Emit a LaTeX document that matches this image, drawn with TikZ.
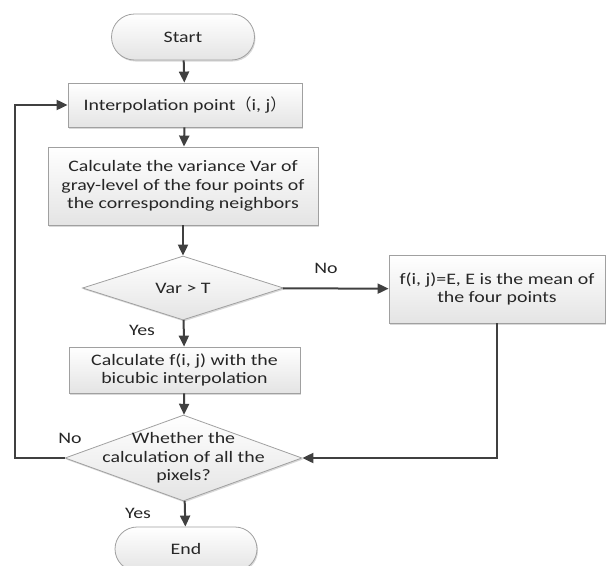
\documentclass[tikz,border=0pt]{standalone}
\usepackage{fontspec}
\setmainfont{Carlito}[FakeStretch=1.24]
\newfontfamily\cjkfont{Noto Sans CJK SC}
\usetikzlibrary{shapes.geometric,shapes.misc,arrows.meta,shadows}
\definecolor{linegray}{HTML}{404040}
\definecolor{bordergray}{HTML}{A0A0A0}
\definecolor{fillgray}{HTML}{E4E4E4}
\begin{document}
\begin{tikzpicture}[x=1pt,y=-1pt,
	every node/.style={font=\fontsize{16}{18.5}\selectfont, text=black!85},
	boxstyle/.style={draw=bordergray, line width=0.8pt, top color=white, bottom color=fillgray,
		inner sep=0pt, align=center,
		drop shadow={shadow xshift=1pt, shadow yshift=-1.5pt, opacity=0.3, fill=gray}},
	procbox/.style={boxstyle, rectangle},
	termbox/.style={boxstyle, rounded rectangle},
	decision/.style={boxstyle, diamond, inner xsep=-40pt, inner ysep=-25pt},
	arr/.style={draw=linegray, line width=2pt, -{Triangle[length=11pt,width=10pt]}}]
	\useasboundingbox (0,0) rectangle (607,565);
	% boxes
	\node[termbox, minimum width=143pt, minimum height=46pt] (start) at (183,37) {Start};
	\node[procbox, minimum width=234pt, minimum height=44pt] (interp) at (185,105)
		{Interpolation point{\cjkfont （}i, j{\cjkfont ）}};
	\node[procbox, minimum width=270pt, minimum height=78pt] (calc) at (183,186)
		{Calculate the variance Var of\\gray-level of the four points of\\the corresponding neighbors};
	\node[decision, minimum width=201pt, minimum height=64pt] (var) at (183,288) {Var > T};
	\node[procbox, minimum width=216pt, minimum height=68pt] (mean) at (497,289)
		{f(i, j)=E, E is the mean of\\the four points};
	\node[procbox, minimum width=231pt, minimum height=46pt] (bicubic) at (184.5,370)
		{Calculate f(i, j) with the\\bicubic interpolation};
	\node[decision, minimum width=237pt, minimum height=86pt] (whether) at (183.5,458)
		{Whether the\\calculation of all the\\pixels?};
	\node[termbox, minimum width=142pt, minimum height=44pt] (end) at (186,549) {End};
	% labels
	\node (no1) at (326,268) {No};
	\node (yes1) at (142,330) {Yes};
	\node (no2) at (70,438) {No};
	\node (yes2) at (138,513) {Yes};
	\coordinate (loop) at (15,458);
	% connectors
	\draw[arr] (start) -- (interp);
	\draw[arr] (interp) -- (calc);
	\draw[arr] (calc) -- (var);
	\draw[arr] (var) -- (mean);
	\draw[arr] (var) -- (bicubic);
	\draw[arr] (bicubic) -- (whether);
	\draw[arr] (whether) -- (end);
	\draw[arr] (mean.south) |- (whether.east);
	\draw[arr] (whether.west) -- (loop) |- (interp.west);
\end{tikzpicture}
\end{document}
